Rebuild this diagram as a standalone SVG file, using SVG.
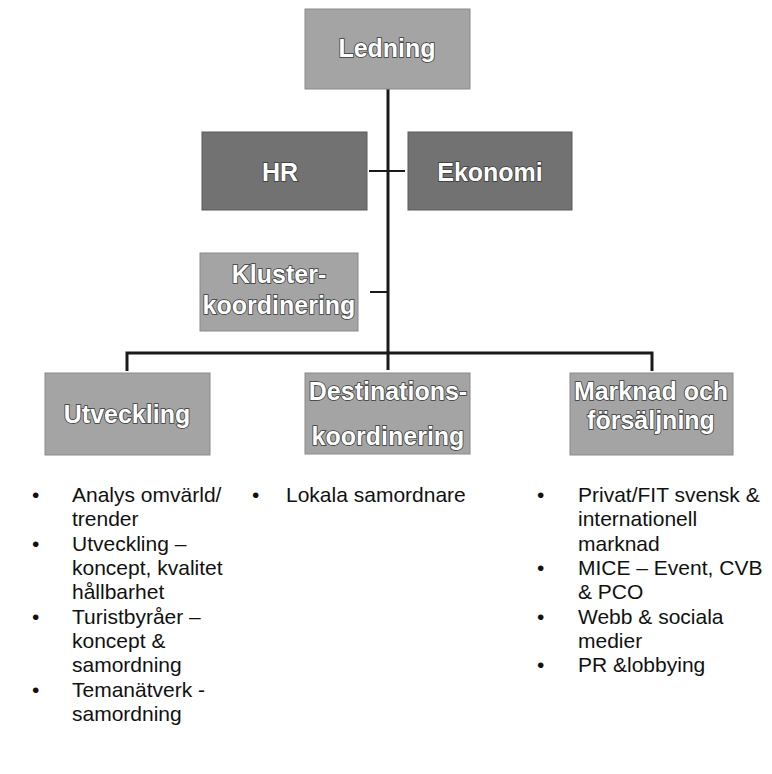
<svg xmlns="http://www.w3.org/2000/svg" width="772" height="774" viewBox="0 0 772 774">
<style>
.box{fill:#a4a4a4;stroke:#8a8a8a;stroke-width:1}
.dark{fill:#727272;stroke:#5a5a5a;stroke-width:1}
.lbl{font-family:"Liberation Sans",Arial,sans-serif;font-weight:bold;font-size:25px;fill:#ffffff;stroke:#3a3a3a;stroke-width:1.6px;paint-order:stroke;text-anchor:middle}
.con{stroke:#1a1a1a;stroke-width:3;fill:none}
.tick{stroke:#1a1a1a;stroke-width:2;fill:none}
.lst{font-family:"Liberation Sans",Arial,sans-serif;font-size:21px;fill:#111}
</style>
<rect width="772" height="774" fill="#ffffff"/>
<g id="connectors">
<path class="con" d="M388 89 V370"/>
<path class="con" d="M127 371 V353 H652 V371"/>
<path class="tick" d="M369 171 H405"/>
<path class="tick" d="M370 292 H388"/>
</g>
<g id="ledning"><rect class="box" x="305" y="9" width="165" height="80"/><text class="lbl" x="387" y="57">Ledning</text></g>
<g id="hr"><rect class="dark" x="202" y="132" width="165" height="78"/><text class="lbl" x="280" y="181">HR</text></g>
<g id="ekonomi"><rect class="dark" x="408" y="132" width="164" height="78"/><text class="lbl" x="490" y="181">Ekonomi</text></g>
<g id="kluster"><rect class="box" x="200" y="253" width="158" height="78"/><text class="lbl" x="279" y="283">Kluster-</text><text class="lbl" x="279" y="314">koordinering</text></g>
<g id="utveckling"><rect class="box" x="45" y="373" width="165" height="82"/><text class="lbl" x="127" y="423">Utveckling</text></g>
<g id="destinations"><rect class="box" x="305" y="373" width="165" height="81"/><text class="lbl" x="388" y="400">Destinations-</text><text class="lbl" x="388" y="445">koordinering</text></g>
<g id="marknad"><rect class="box" x="570" y="373" width="163" height="82"/><text class="lbl" x="651" y="400">Marknad och</text><text class="lbl" x="651" y="429">försäljning</text></g>
<g id="list-utveckling" class="lst">
<text x="32" y="502">•</text><text x="72" y="502">Analys omvärld/</text>
<text x="72" y="526">trender</text>
<text x="32" y="551">•</text><text x="72" y="551">Utveckling –</text>
<text x="72" y="575">koncept, kvalitet</text>
<text x="72" y="599">hållbarhet</text>
<text x="32" y="624">•</text><text x="72" y="624">Turistbyråer –</text>
<text x="72" y="648">koncept &amp;</text>
<text x="72" y="672">samordning</text>
<text x="32" y="697">•</text><text x="72" y="697">Temanätverk -</text>
<text x="72" y="721">samordning</text>
</g>
<g id="list-destinations" class="lst">
<text x="252" y="502">•</text><text x="286" y="502">Lokala samordnare</text>
</g>
<g id="list-marknad" class="lst">
<text x="537" y="502">•</text><text x="578" y="502">Privat/FIT svensk &amp;</text>
<text x="578" y="526">internationell</text>
<text x="578" y="551">marknad</text>
<text x="537" y="575">•</text><text x="578" y="575">MICE – Event, CVB</text>
<text x="578" y="599">&amp; PCO</text>
<text x="537" y="624">•</text><text x="578" y="624">Webb &amp; sociala</text>
<text x="578" y="648">medier</text>
<text x="537" y="672">•</text><text x="578" y="672">PR &amp;lobbying</text>
</g>
</svg>
